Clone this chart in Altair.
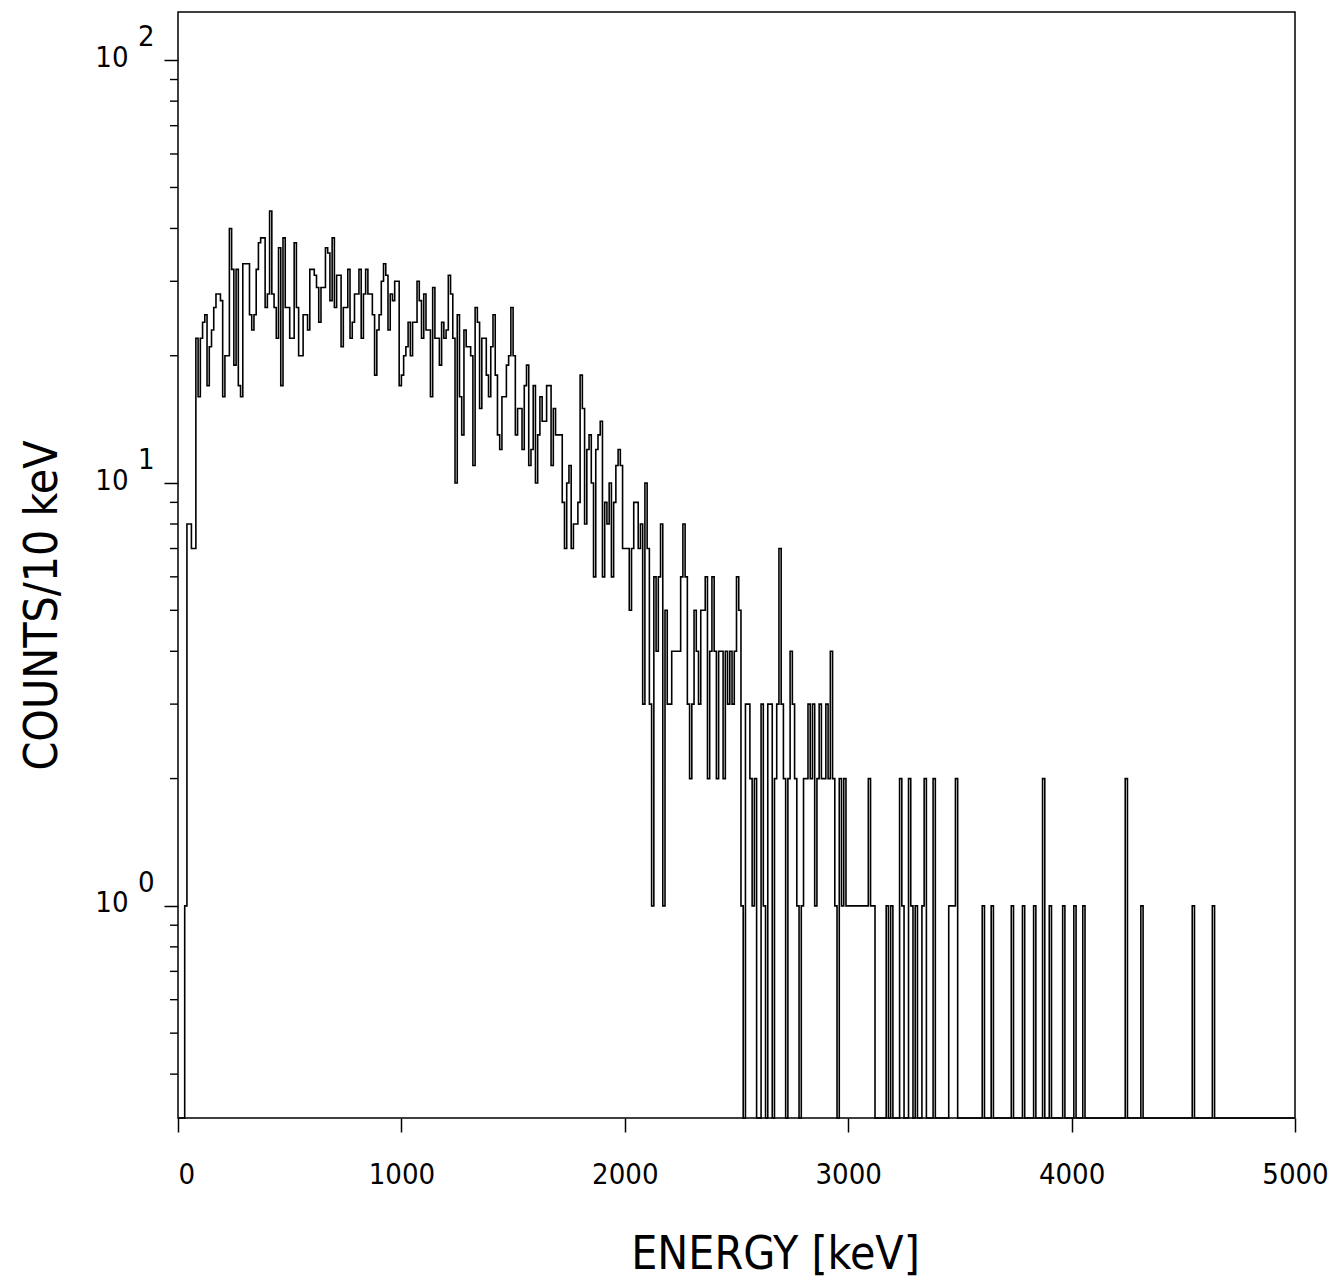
import altair as alt
import pandas as pd

FONT = "DejaVu Sans Condensed, Liberation Sans Narrow, sans-serif"
BIN_KEV = 10
Y_FLOOR = 0.315

# counts per 10 keV bin
counts_0000_0990 = [
    0, 0, 0, 1, 8, 8, 7, 7, 22, 16,
    22, 24, 25, 17, 21, 23, 26, 28, 28, 27,
    16, 20, 20, 40, 32, 19, 32, 17, 16, 33,
    33, 33, 25, 23, 25, 32, 37, 38, 38, 26,
    28, 44, 28, 26, 22, 36, 17, 38, 26, 26,
    22, 22, 37, 26, 20, 20, 25, 25, 23, 32,
    32, 31, 29, 24, 29, 29, 36, 35, 27, 38,
    26, 31, 31, 21, 26, 26, 32, 22, 24, 28,
    28, 32, 22, 28, 32, 28, 28, 25, 18, 23,
    25, 30, 33, 31, 23, 28, 27, 30, 30, 17,
]
counts_1000_1990 = [
    18, 20, 21, 24, 20, 24, 24, 30, 27, 22,
    28, 23, 23, 16, 29, 22, 22, 19, 24, 22,
    23, 31, 28, 22, 10, 25, 16, 13, 23, 21,
    21, 20, 11, 26, 24, 15, 22, 22, 18, 16,
    21, 25, 18, 13, 12, 16, 16, 19, 20, 26,
    20, 13, 15, 15, 12, 17, 19, 11, 12, 17,
    10, 13, 16, 14, 14, 17, 17, 11, 15, 13,
    13, 13, 9, 7, 10, 11, 7, 8, 8, 9,
    18, 15, 8, 12, 13, 10, 6, 12, 13, 14,
    6, 9, 8, 10, 6, 9, 11, 12, 11, 7,
]
counts_2000_2990 = [
    7, 7, 5, 7, 9, 9, 7, 8, 3, 10,
    7, 3, 1, 6, 4, 6, 8, 1, 5, 3,
    3, 4, 4, 4, 4, 6, 8, 6, 3, 2,
    3, 5, 4, 3, 5, 5, 6, 2, 4, 6,
    4, 2, 4, 4, 2, 4, 3, 4, 3, 4,
    6, 5, 1, 0, 3, 3, 2, 1, 2, 0,
    0, 3, 1, 0, 3, 3, 0, 2, 3, 7,
    3, 2, 0, 2, 4, 3, 2, 1, 0, 1,
    2, 2, 3, 2, 3, 1, 2, 3, 2, 2,
    3, 2, 4, 2, 1, 0, 2, 1, 2, 1,
]
counts_3000_3990 = [
    1, 1, 1, 1, 1, 1, 1, 1, 1, 2,
    1, 1, 0, 0, 0, 0, 0, 1, 0, 1,
    0, 0, 0, 2, 1, 0, 0, 2, 1, 0,
    1, 0, 0, 1, 2, 0, 0, 0, 2, 0,
    0, 0, 0, 0, 0, 1, 1, 1, 2, 0,
    0, 0, 0, 0, 0, 0, 0, 0, 0, 0,
    1, 0, 0, 0, 1, 0, 0, 0, 0, 0,
    0, 0, 0, 1, 0, 0, 0, 0, 1, 0,
    0, 0, 0, 1, 0, 0, 0, 2, 0, 0,
    1, 0, 0, 0, 0, 0, 1, 0, 0, 0,
]
counts_4000_4990 = [
    0, 1, 0, 0, 0, 1, 0, 0, 0, 0,
    0, 0, 0, 0, 0, 0, 0, 0, 0, 0,
    0, 0, 0, 0, 2, 0, 0, 0, 0, 0,
    0, 1, 0, 0, 0, 0, 0, 0, 0, 0,
    0, 0, 0, 0, 0, 0, 0, 0, 0, 0,
    0, 0, 0, 0, 1, 0, 0, 0, 0, 0,
    0, 0, 0, 1, 0, 0, 0, 0, 0, 0,
    0, 0, 0, 0, 0, 0, 0, 0, 0, 0,
    0, 0, 0, 0, 0, 0, 0, 0, 0, 0,
    0, 0, 0, 0, 0, 0, 0, 0, 0, 0,
]

x_ticks = [0, 1000, 2000, 3000, 4000, 5000]
y_major = [1, 10, 100]
y_exponents = ["0", "1", "2"]
y_minor = [0.4, 0.5, 0.6, 0.7, 0.8, 0.9,
           2, 3, 4, 5, 6, 7, 8, 9,
           20, 30, 40, 50, 60, 70, 80, 90]

counts = (counts_0000_0990 + counts_1000_1990 + counts_2000_2990
          + counts_3000_3990 + counts_4000_4990)
rows = [{"e": i * BIN_KEV, "c": c} for i, c in enumerate(counts)]
rows.append({"e": len(counts) * BIN_KEV, "c": 0})
df = pd.DataFrame(rows)

YTITLE = "COUNTS/10 keV"
LABEL_SIZE = 29
TITLE_SIZE = 46
yscale = alt.Scale(type="log", domain=[Y_FLOOR, 130], nice=False)

common_axis = dict(
    grid=False, domain=False,
    tickColor="black", tickSize=14, tickWidth=1.5,
    labelFont=FONT, labelFontSize=LABEL_SIZE, labelColor="black",
    titleFont=FONT, titleFontSize=TITLE_SIZE, titleFontWeight="normal",
    titleColor="black",
)

line = alt.Chart(df).transform_calculate(
    yv=f"datum.c > 0 ? datum.c : {Y_FLOOR}"
).mark_line(interpolate="step-after", color="black", strokeWidth=1.6).encode(
    x=alt.X("e:Q",
            scale=alt.Scale(domain=[0, 5000], nice=False, zero=False),
            axis=alt.Axis(values=x_ticks, title="ENERGY [keV]", format="d",
                          labelFlush=False,
                          labelAlign=alt.expr("datum.value == 0 ? 'left' : 'center'"),
                          labelBaseline="alphabetic", labelPadding=51,
                          titleX=597, titleY=150, titleAlign="center",
                          titleBaseline="alphabetic", **common_axis)),
    y=alt.Y("yv:Q", scale=yscale,
            axis=alt.Axis(values=y_major, labelExpr="'10'", title=YTITLE,
                          labelBaseline="alphabetic", labelOffset=6,
                          labelPadding=36, labelAlign="right",
                          titleX=-122, titleY=593, titleAlign="center",
                          titleBaseline="alphabetic", **common_axis)),
)

minor = alt.Chart(pd.DataFrame({"v": y_minor})).mark_rule(
    color="black", strokeWidth=1.4
).encode(
    y=alt.Y("v:Q", scale=yscale, title=YTITLE),
    x=alt.value(-8), x2=alt.value(0),
)

exps = alt.Chart(pd.DataFrame({"v": y_major, "t": y_exponents})).mark_text(
    align="left", baseline="alphabetic", dy=-14, fontSize=LABEL_SIZE, font=FONT,
    color="black"
).encode(
    y=alt.Y("v:Q", scale=yscale, title=YTITLE),
    x=alt.value(-40),
    text="t:N",
)

chart = alt.layer(line, minor, exps).properties(
    width=1117, height=1106,
    autosize="none",
    background="white",
    padding={"left": 170, "top": 4, "right": 34, "bottom": 163},
).configure_view(
    stroke="black", strokeWidth=1.5
)

chart.save("out.html", embed_options={"renderer": "svg", "actions": False})
